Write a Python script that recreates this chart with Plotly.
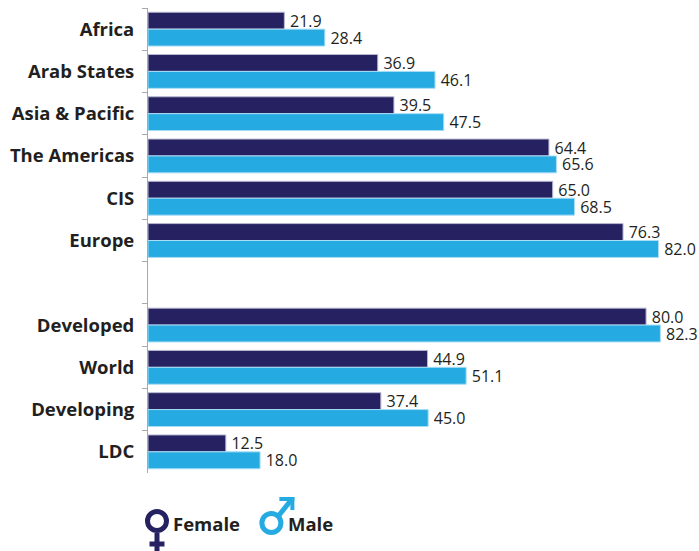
import plotly.graph_objects as go

categories = ["Africa", "Arab States", "Asia & Pacific", "The Americas", "CIS", "Europe", " ",
              "Developed", "World", "Developing", "LDC"]
female = [21.9, 36.9, 39.5, 64.4, 65.0, 76.3, None, 80.0, 44.9, 37.4, 12.5]
male = [28.4, 46.1, 47.5, 65.6, 68.5, 82.0, None, 82.3, 51.1, 45.0, 18.0]
FEMALE_COLOR = "#262262"
MALE_COLOR = "#25AAE1"
TEXT = "#231F20"
W, H = 699, 551
L, R, T, B = 147.5, 0, 8, 78
PW, PH = W - L - R, H - T - B


def labels(vals):
    return ["" if v is None else f"\u2009{v:.1f}" for v in vals]


fig = go.Figure()
for name, vals, color, edge in [("Female", female, FEMALE_COLOR, "#B9B8D0"), ("Male", male, MALE_COLOR, "#A8DDF5")]:
    fig.add_trace(go.Bar(
        y=categories, x=vals, name=name, orientation="h",
        marker=dict(color=color, line=dict(color=edge, width=1)),
        text=labels(vals), textposition="outside", cliponaxis=False, constraintext="none",
        textfont=dict(family="Open Sans", size=16, color=TEXT),
    ))

def px(x):
    return (x - L) / PW

def py(y):
    return 1 - (y - T) / PH

shapes = []
def circle(cx, cy, r, color):
    shapes.append(dict(type="circle", xref="paper", yref="paper", x0=px(cx - r), x1=px(cx + r),
                       y0=py(cy + r), y1=py(cy - r), line=dict(color=color, width=5)))

def seg(x0, y0, x1, y1, color, width=5):
    shapes.append(dict(type="line", xref="paper", yref="paper", x0=px(x0), x1=px(x1),
                       y0=py(y0), y1=py(y1), line=dict(color=color, width=width)))

circle(156.5, 521, 9.5, FEMALE_COLOR)
seg(156.5, 533, 156.5, 551, FEMALE_COLOR)
seg(149, 544, 164, 544, FEMALE_COLOR)
circle(271, 523, 9.5, MALE_COLOR)
seg(278, 516, 290, 501, MALE_COLOR)
seg(279, 499, 294, 499, MALE_COLOR, 4)
seg(292, 497, 292, 510, MALE_COLOR, 4)

fig.update_layout(
    width=W, height=H, autosize=False,
    margin=dict(l=L, r=R, t=T, b=B),
    paper_bgcolor="white", plot_bgcolor="white",
    barmode="group", bargap=0.2, bargroupgap=0,
    showlegend=False, shapes=shapes,
    xaxis=dict(range=[0, 88.5], visible=False, fixedrange=True),
    yaxis=dict(
        categoryorder="array", categoryarray=categories, autorange="reversed",
        tickson="boundaries", ticks="outside", ticklen=5, tickcolor="#A7A9AC", tickwidth=1,
        showline=True, linecolor="#A7A9AC", linewidth=1, showgrid=False, zeroline=False,
        ticklabelstandoff=9,
        tickfont=dict(family="Open Sans", size=18.5, color=TEXT, weight=700),
    ),
    annotations=[
        dict(text="<b>Female</b>", xref="paper", yref="paper", x=px(171), y=py(523), xanchor="left", yanchor="middle",
             showarrow=False, font=dict(family="Open Sans", size=18.5, color=TEXT)),
        dict(text="<b>Male</b>", xref="paper", yref="paper", x=px(286), y=py(523), xanchor="left", yanchor="middle",
             showarrow=False, font=dict(family="Open Sans", size=18.5, color=TEXT)),
    ],
)
fig.write_html("out.html", config={"displayModeBar": False},
               post_script="document.body.style.margin='0';document.body.style.overflow='hidden';")
